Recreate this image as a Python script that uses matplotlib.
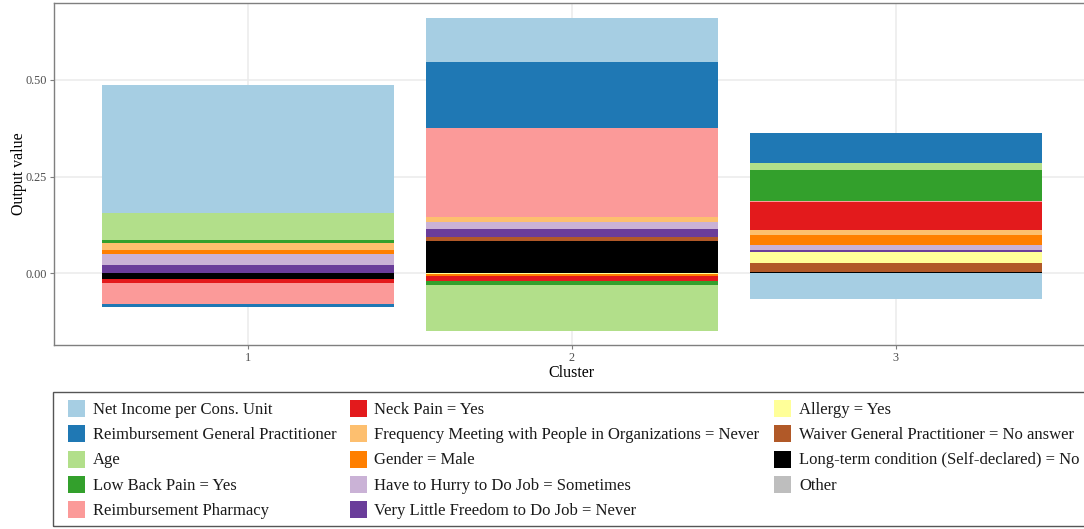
import matplotlib
matplotlib.use("Agg")
import matplotlib.pyplot as plt
from matplotlib.patches import Rectangle
import numpy as np

plt.rcParams['font.family'] = ['Liberation Serif', 'DejaVu Serif']

clusters = ["1", "2", "3"]
features = [
    "Net Income per Cons. Unit",
    "Reimbursement General Practitioner",
    "Age",
    "Low Back Pain = Yes",
    "Reimbursement Pharmacy",
    "Neck Pain = Yes",
    "Frequency Meeting with People in Organizations = Never",
    "Gender = Male",
    "Have to Hurry to Do Job = Sometimes",
    "Very Little Freedom to Do Job = Never",
    "Allergy = Yes",
    "Waiver General Practitioner = No answer",
    "Long-term condition (Self-declared) = No",
    "Other",
]
colors = ["#A6CEE3", "#1F78B4", "#B2DF8A", "#33A02C", "#FB9A99", "#E31A1C",
          "#FDBF6F", "#FF7F00", "#CAB2D6", "#6A3D9A", "#FFFF99", "#B15928",
          "#000000", "#BEBEBE"]

net_income   = [0.332, 0.114, -0.067]
reimb_gp     = [-0.008, 0.170, 0.078]
age          = [0.069, -0.119, 0.018]
low_back     = [0.008, -0.010, 0.080]
reimb_pharm  = [-0.055, 0.230, 0.002]
neck_pain    = [-0.009, -0.013, 0.073]
freq_meeting = [0.018, 0.013, 0.013]
gender_male  = [0.010, -0.005, 0.026]
hurry_job    = [0.0285, 0.018, 0.013]
freedom_job  = [0.0215, 0.021, 0.005]
allergy      = [0.0, -0.002, 0.028]
waiver_gp    = [0.0, 0.0105, 0.024]
long_term    = [-0.015, 0.0835, 0.003]
other        = [0.0, 0.0, 0.0]

values = [net_income, reimb_gp, age, low_back, reimb_pharm, neck_pain,
          freq_meeting, gender_male, hurry_job, freedom_job, allergy,
          waiver_gp, long_term, other]

W, H = 1084, 529
fig = plt.figure(figsize=(W / 100, H / 100), dpi=100)

# axes in pixel geometry
left_px, top_px, bottom_px = 53.5, 3, 345
xlo, xhi = 0.4, 3.6
px_per_unit = 324.0
width_px = (xhi - xlo) * px_per_unit
ax = fig.add_axes([left_px / W, 1 - bottom_px / H, width_px / W, (bottom_px - top_px) / H])

x = np.arange(1, len(clusters) + 1)
pos_bottom = np.zeros(len(clusters))
neg_bottom = np.zeros(len(clusters))
# stack from the last factor level (nearest zero) to the first (farthest)
for vals, col in zip(values[::-1], colors[::-1]):
    v = np.array(vals, dtype=float)
    pos = np.where(v > 0, v, 0.0)
    neg = np.where(v < 0, v, 0.0)
    ax.bar(x, pos, bottom=pos_bottom, width=0.9, color=col, linewidth=0, zorder=2)
    ax.bar(x, neg, bottom=neg_bottom, width=0.9, color=col, linewidth=0, zorder=2)
    pos_bottom += pos
    neg_bottom += neg

ax.set_xlim(xlo, xhi)
ax.set_ylim(-0.1855, 0.699)
ax.set_xticks(x)
ax.set_xticklabels(clusters)
ax.set_yticks([0.0, 0.25, 0.5])
ax.set_yticklabels(["0.00", "0.25", "0.50"])
ax.grid(True, color="#EBEBEB", linewidth=1.1, zorder=0)
ax.set_axisbelow(True)
for s in ax.spines.values():
    s.set_color("#7F7F7F")
    s.set_linewidth(1.0)
ax.tick_params(axis="both", colors="#7F7F7F", labelcolor="#4D4D4D",
               labelsize=8.8, length=3, width=0.8, pad=2)
ax.set_ylabel("Output value", fontsize=11.5, color="black")
ax.yaxis.set_label_coords((27 - left_px) / width_px, 0.5)
ax.set_xlabel("Cluster", fontsize=11.5, color="black", labelpad=0.5)

# legend (3 columns, 5 rows), placed in pixel geometry
frame = Rectangle((53.3 / W, 1 - 526.3 / H), (W + 10 - 53.3) / W, (526.3 - 391.7) / H,
                  transform=fig.transFigure, fill=False, edgecolor="#555555",
                  linewidth=1.0, clip_on=False)
fig.patches.append(frame)
col_sq_x = [68.3, 350.0, 774.0]
col_tx_x = [92.7, 374.0, 799.0]
row_y = [408.3, 433.6, 459.0, 484.3, 509.8]
sq = 17.0
for i, (lab, col) in enumerate(zip(features, colors)):
    c, r = divmod(i, 5)
    fig.patches.append(Rectangle((col_sq_x[c] / W, 1 - (row_y[r] + sq / 2) / H),
                                 sq / W, sq / H, transform=fig.transFigure,
                                 facecolor=col, edgecolor="none"))
    fig.text(col_tx_x[c] / W, 1 - (row_y[r] + 5.5) / H, lab, fontsize=12.0,
             va="baseline", ha="left", color="#1A1A1A")

fig.savefig("out.png", dpi=100)
